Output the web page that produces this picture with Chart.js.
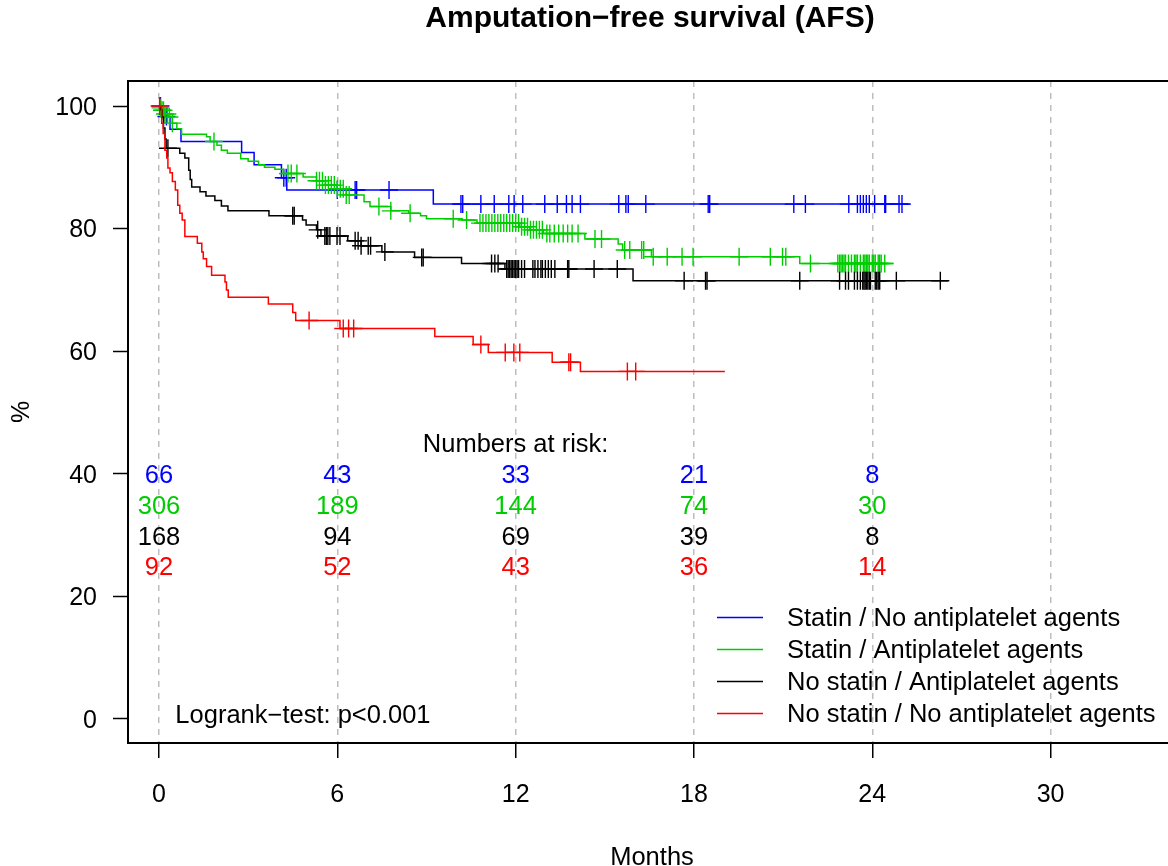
<!DOCTYPE html>
<html>
<head>
<meta charset="utf-8">
<title>Amputation-free survival (AFS)</title>
<script src="https://cdn.jsdelivr.net/npm/chart.js@4.4.1/dist/chart.umd.min.js"></script>
<style>
  html, body { margin: 0; padding: 0; background: #fff; overflow: hidden; }
  canvas { display: block; }
</style>
</head>
<body>
<canvas id="GraphiqueAFS" width="1176" height="866" style="width:1176px;height:866px;"></canvas>
<script>
var titre = "Amputation\u2212free survival (AFS)";
var xTicks = [0, 6, 12, 18, 24, 30];
var yTicks = [0, 20, 40, 60, 80, 100];

var groupes = ["Statin / No antiplatelet agents", "Statin / Antiplatelet agents",
               "No statin / Antiplatelet agents", "No statin / No antiplatelet agents"];
var couleurs = ["#0000ff", "#00cd00", "#000000", "#ff0000"];

// Statin / No antiplatelet agents
var bleuTemps = [0, 0.1, 0.37, 0.74, 2.78, 3.2, 4.12, 4.3, 9.23];
var bleuSurv = [100, 98.3, 96.2, 94.2, 92.4, 90.4, 88.3, 86.3, 84.0];
var bleuFin = 25.26;
var bleuCensures = [0.05, 0.25, 4.2, 4.28, 6.0, 6.6, 6.65, 7.74, 10.16, 10.22, 10.83, 11.28, 11.77, 11.95,
                    12.24, 12.98, 13.4, 13.71, 13.9, 14.18, 15.47, 15.71, 15.79, 16.38, 18.48, 18.53,
                    21.36, 21.75, 23.21, 23.5, 23.6, 23.7, 23.8, 23.9, 24.08, 24.42, 24.45, 24.9, 25.0];

// Statin / Antiplatelet agents
var vertTemps = [0, 0.05, 0.1, 0.2, 0.3, 0.45, 0.6, 0.76, 1.6, 1.72, 1.95, 2.1, 2.3, 2.75, 3.0, 3.35,
                 3.55, 3.9, 4.18, 4.85, 5.3, 5.6, 6.0, 6.3, 6.9, 7.1, 7.8, 8.4, 8.8, 9.0, 10.2, 10.7,
                 12.14, 12.48, 12.93, 14.33, 15.45, 15.6, 16.57, 21.56];
var vertSurv = [100, 99.7, 99.3, 98.7, 98.2, 97.2, 96.3, 95.4, 95.0, 94.2, 93.6, 92.8, 92.3, 91.4, 91.0, 90.4,
                90.0, 89.7, 89.0, 88.4, 87.8, 87.1, 86.5, 85.5, 84.4, 83.6, 82.9, 82.5, 82.1, 81.6, 81.4, 80.9,
                80.3, 79.8, 79.2, 78.3, 77.5, 76.5, 75.4, 74.3];
var vertFin = 24.7;
var vertCensures = [0.05, 0.1, 0.15, 0.2, 0.28, 0.35, 0.45, 1.85, 4.34, 4.45, 4.64, 5.3, 5.4, 5.5, 5.6, 5.7,
                    5.8, 5.9, 6.0, 6.1, 6.2, 6.3, 6.4, 7.4, 7.8, 8.45, 9.9, 10.35, 10.8, 10.9, 11.0, 11.1,
                    11.2, 11.3, 11.4, 11.5, 11.6, 11.7, 11.8, 11.9, 12.0, 12.1, 12.2, 12.3, 12.4, 12.5, 12.6,
                    12.7, 12.8, 12.9, 13.05, 13.15, 13.3, 13.45, 13.6, 13.75, 13.9, 14.1, 14.67, 14.89, 15.67,
                    15.84, 16.24, 16.31, 16.63, 17.1, 17.6, 17.97, 19.52, 20.57, 20.98, 21.09, 21.92, 22.84,
                    22.9, 22.95, 23.0, 23.05, 23.1, 23.2, 23.3, 23.4, 23.45, 23.5, 23.6, 23.7, 23.75, 23.8,
                    23.85, 23.9, 24.0, 24.05, 24.1, 24.2, 24.25, 24.3, 24.42];

// No statin / Antiplatelet agents
var noirTemps = [0, 0.05, 0.1, 0.15, 0.2, 0.24, 0.7, 0.87, 1.0, 1.05, 1.1, 1.38, 1.58, 1.88, 2.1, 2.32,
                 3.7, 4.83, 4.95, 5.3, 5.45, 6.35, 6.8, 7.5, 8.6, 10.18, 11.64, 15.95];
var noirSurv = [100, 99.4, 98.2, 96.4, 94.6, 93.1, 92.3, 91.5, 89.5, 88.0, 86.8, 86.0, 85.3, 84.6, 83.7, 82.9,
                82.1, 81.4, 80.6, 79.8, 78.8, 78.0, 77.2, 76.2, 75.3, 74.3, 73.4, 71.5];
var noirFin = 26.55;
var noirCensures = [0.3, 4.5, 4.55, 5.34, 5.58, 5.63, 5.68, 5.75, 5.99, 6.09, 6.6, 6.7, 6.8, 7.04, 7.12, 7.6,
                    8.84, 8.89, 11.19, 11.3, 11.41, 11.7, 11.75, 11.8, 11.85, 11.9, 11.95, 12.0, 12.05, 12.1,
                    12.2, 12.3, 12.58, 12.65, 12.75, 12.85, 12.9, 13.0, 13.1, 13.2, 13.32, 13.75, 13.79, 14.64,
                    15.42, 17.67, 18.39, 18.44, 21.56, 22.9, 23.1, 23.2, 23.4, 23.5, 23.6, 23.68, 23.72, 23.76,
                    23.8, 23.85, 23.9, 23.94, 24.1, 24.15, 24.2, 24.25, 24.81, 26.29];

// No statin / No antiplatelet agents
var rougeTemps = [0, 0.09, 0.14, 0.2, 0.26, 0.3, 0.37, 0.45, 0.55, 0.63, 0.7, 0.78, 0.87, 1.29, 1.44, 1.49,
                  1.6, 1.77, 2.22, 2.27, 2.33, 3.68, 4.5, 4.6, 6.09, 9.28, 10.57, 11.08, 13.23, 14.18];
var rougeSurv = [100, 97.2, 95.5, 92.8, 91.5, 89.9, 89.1, 87.7, 86.3, 83.8, 82.5, 81.4, 78.7, 77.6, 76.2, 75.1,
                 73.8, 72.4, 71.3, 70.0, 68.8, 67.7, 66.3, 65.0, 63.7, 62.4, 61.1, 59.8, 58.2, 56.7];
var rougeFin = 19.04;
var rougeCensures = [0.02, 5.05, 6.2, 6.38, 6.55, 10.83, 11.65, 11.94, 12.14, 13.79, 13.85, 15.76, 16.04];

// Numbers at risk
var risqueTemps = [0, 6, 12, 18, 24];
var risqueBleu = [66, 43, 33, 21, 8];
var risqueVert = [306, 189, 144, 74, 30];
var risqueNoir = [168, 94, 69, 39, 8];
var risqueRouge = [92, 52, 43, 36, 14];
var risqueY = [40, 35, 30, 25];
var logrank = "Logrank\u2212test: p<0.001";

var police = '"Liberation Sans", Arial, Helvetica, sans-serif';

function Courbe(temps, surv, fin) {
    var points = [];
    for (var i = 0; i < temps.length; i++) {
        points.push({ x: temps[i], y: surv[i] });
    }
    points.push({ x: fin, y: surv[surv.length - 1] });
    return points;
}

function SurvieA(temps, surv, t) {
    var s = surv[0];
    for (var i = 0; i < temps.length; i++) {
        if (temps[i] <= t) s = surv[i];
    }
    return s;
}

function Censures(temps, surv, censures) {
    return censures.map(function (t) {
        return { x: t, y: SurvieA(temps, surv, t) };
    });
}

var courbes = [
    Courbe(bleuTemps, bleuSurv, bleuFin),
    Courbe(vertTemps, vertSurv, vertFin),
    Courbe(noirTemps, noirSurv, noirFin),
    Courbe(rougeTemps, rougeSurv, rougeFin)
];
var marques = [
    Censures(bleuTemps, bleuSurv, bleuCensures),
    Censures(vertTemps, vertSurv, vertCensures),
    Censures(noirTemps, noirSurv, noirCensures),
    Censures(rougeTemps, rougeSurv, rougeCensures)
];
var risques = [risqueBleu, risqueVert, risqueNoir, risqueRouge];

var datasets = [];
for (var g = 0; g < 4; g++) {
    datasets.push({
        label: groupes[g],
        data: courbes[g],
        borderColor: couleurs[g],
        borderWidth: 1.5,
        stepped: 'before',
        pointRadius: 0,
        fill: false,
        order: 4 - g
    });
    datasets.push({
        label: groupes[g] + " (censored)",
        data: marques[g],
        showLine: false,
        pointStyle: 'cross',
        pointRadius: 9,
        pointBorderColor: couleurs[g],
        pointBorderWidth: 1.4,
        order: 4 - g
    });
}

var habillage = {
    id: 'habillage',
    afterDraw: function (chart) {
        var ctx = chart.ctx;
        var zone = chart.chartArea;
        var xs = chart.scales.x;
        var ys = chart.scales.y;
        ctx.save();

        ctx.strokeStyle = "#000";
        ctx.lineWidth = 2;
        ctx.strokeRect(zone.left, zone.top, zone.right - zone.left, zone.bottom - zone.top);

        ctx.fillStyle = "#000";
        ctx.textAlign = "center";
        ctx.textBaseline = "middle";
        ctx.font = "bold 30px " + police;
        ctx.fillText(titre, 650, 19);

        ctx.font = "25.5px " + police;
        ctx.fillText("Numbers at risk:", xs.getPixelForValue(12), ys.getPixelForValue(45) + 2);
        for (var g = 0; g < risques.length; g++) {
            ctx.fillStyle = couleurs[g];
            for (var i = 0; i < risqueTemps.length; i++) {
                ctx.fillText(String(risques[g][i]), xs.getPixelForValue(risqueTemps[i]), ys.getPixelForValue(risqueY[g]) + 2.5);
            }
        }

        ctx.fillStyle = "#000";
        ctx.textAlign = "left";
        ctx.fillText(logrank, xs.getPixelForValue(0.55), ys.getPixelForValue(0.8) + 1.5);

        // legend, bottom right
        ctx.lineWidth = 1.5;
        for (var k = 0; k < groupes.length; k++) {
            var y = zone.bottom - 125.5 + 32 * k;
            ctx.strokeStyle = couleurs[k];
            ctx.beginPath();
            ctx.moveTo(717, y);
            ctx.lineTo(763, y);
            ctx.stroke();
            ctx.fillStyle = "#000";
            ctx.fillText(groupes[k], 787, y + 1.5);
        }
        ctx.restore();
    }
};

var ctx = document.getElementById('GraphiqueAFS').getContext('2d');

var graphique = new Chart(ctx, {
    type: 'line',
    data: { datasets: datasets },
    options: {
        responsive: false,
        animation: false,
        devicePixelRatio: 1,
        layout: { autoPadding: false, padding: { top: 81, right: 0, bottom: 0, left: 0 } },
        plugins: {
            legend: { display: false },
            title: { display: false },
            tooltip: { enabled: false }
        },
        scales: {
            x: {
                type: 'linear',
                min: -1.043,
                max: 34.22,
                afterFit: function (scale) { scale.height = 123; },
                afterBuildTicks: function (scale) {
                    scale.ticks = xTicks.map(function (v) { return { value: v }; });
                },
                ticks: {
                    color: '#000',
                    padding: 22,
                    maxRotation: 0,
                    autoSkip: false,
                    font: { family: police, size: 25 }
                },
                grid: {
                    color: '#bebebe',
                    lineWidth: 1.5,
                    tickLength: 15,
                    tickColor: '#000',
                    tickWidth: 1.5,
                    tickBorderDash: []
                },
                border: { display: false, dash: [6, 6] },
                title: {
                    display: true,
                    text: 'Months',
                    color: '#000',
                    padding: { top: 0, bottom: -7 },
                    font: { family: police, size: 25.5 }
                }
            },
            y: {
                type: 'linear',
                min: -3.92,
                max: 104.08,
                afterFit: function (scale) { scale.width = 128; },
                afterBuildTicks: function (scale) {
                    scale.ticks = yTicks.map(function (v) { return { value: v }; });
                },
                ticks: {
                    color: '#000',
                    padding: 16,
                    labelOffset: 2,
                    font: { family: police, size: 25 }
                },
                grid: {
                    drawOnChartArea: false,
                    tickLength: 15,
                    tickColor: '#000',
                    tickWidth: 1.5
                },
                border: { display: false },
                title: {
                    display: true,
                    text: '%',
                    color: '#000',
                    padding: { top: 7, bottom: 0 },
                    font: { family: police, size: 25 }
                }
            }
        }
    },
    plugins: [habillage]
});
</script>
</body>
</html>
